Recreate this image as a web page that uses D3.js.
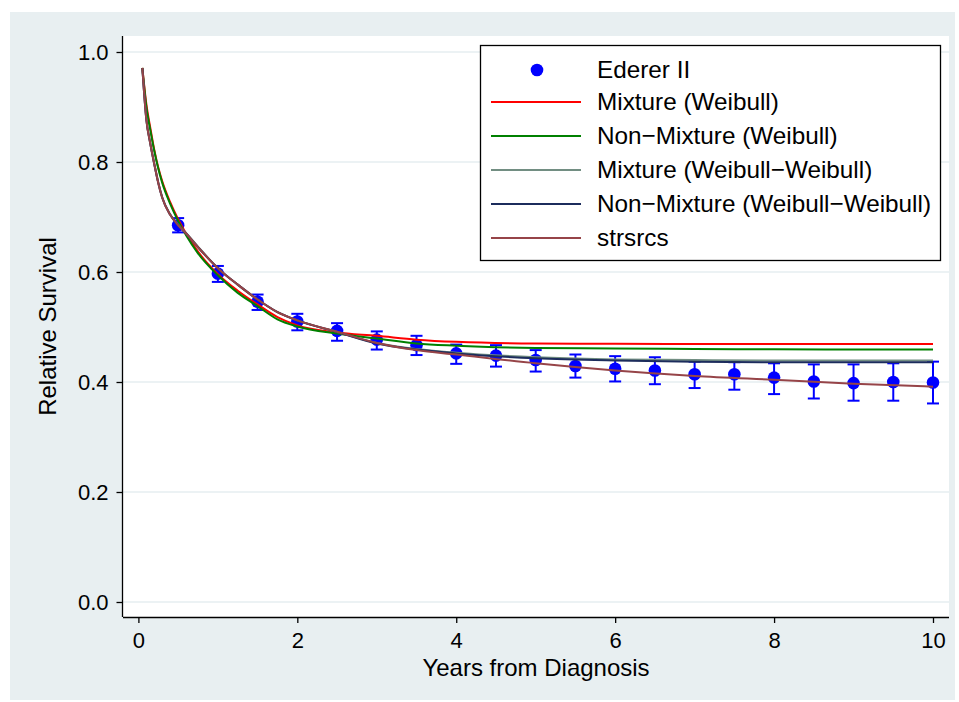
<!DOCTYPE html>
<html>
<head>
<meta charset="utf-8">
<style>
body { margin: 0; background: #fff; }
svg text { font-family: "Liberation Sans", Arial, sans-serif; fill: #000; }
.grid line { stroke: #e6eef0; stroke-width: 1.5; }
.curve { fill: none; stroke-width: 2; }
</style>
</head>
<body>
<svg width="959" height="702"></svg>
<script src="https://d3js.org/d3.v7.min.js"></script>
<script>

// Ederer II estimates with 95% limits
var ederTime = [0.5, 1, 1.5, 2, 2.5, 3, 3.5, 4, 4.5, 5, 5.5, 6, 6.5, 7, 7.5, 8, 8.5, 9, 9.5, 10];
var ederRS   = [0.685, 0.597, 0.546, 0.510, 0.493, 0.477, 0.467, 0.452, 0.448, 0.440, 0.429, 0.424, 0.421, 0.414, 0.414, 0.408, 0.401, 0.398, 0.400, 0.399];
var ederLo   = [0.672, 0.582, 0.531, 0.494, 0.475, 0.459, 0.449, 0.433, 0.428, 0.419, 0.408, 0.401, 0.396, 0.389, 0.386, 0.378, 0.370, 0.366, 0.366, 0.361];
var ederHi   = [0.698, 0.611, 0.559, 0.524, 0.507, 0.492, 0.484, 0.468, 0.467, 0.458, 0.450, 0.447, 0.445, 0.437, 0.436, 0.434, 0.432, 0.432, 0.434, 0.437];

// fitted curves, read at these times
var fitTime = [0.05, 0.1, 0.15, 0.2, 0.25, 0.3, 0.4, 0.5, 0.6, 0.75, 1, 1.25, 1.5, 1.75, 2, 2.5, 3, 3.5, 4, 5, 6, 7, 8, 9, 10];
var mixWeib    = [0.971, 0.905, 0.862, 0.822, 0.790, 0.765, 0.727, 0.696, 0.670, 0.637, 0.596, 0.566, 0.541, 0.518, 0.503, 0.490, 0.484, 0.477, 0.473, 0.470, 0.4695, 0.469, 0.469, 0.469, 0.469];
var nonMixWeib = [0.971, 0.900, 0.858, 0.820, 0.788, 0.762, 0.724, 0.693, 0.667, 0.634, 0.594, 0.562, 0.538, 0.514, 0.501, 0.488, 0.479, 0.470, 0.466, 0.462, 0.461, 0.460, 0.4595, 0.459, 0.459];
var mixWW      = [0.971, 0.878, 0.834, 0.797, 0.763, 0.736, 0.705, 0.686, 0.671, 0.646, 0.607, 0.577, 0.550, 0.527, 0.512, 0.491, 0.471, 0.460, 0.453, 0.445, 0.441, 0.440, 0.439, 0.439, 0.439];
var nonMixWW   = [0.971, 0.877, 0.833, 0.796, 0.762, 0.735, 0.704, 0.685, 0.670, 0.645, 0.607, 0.577, 0.550, 0.527, 0.512, 0.491, 0.470, 0.459, 0.452, 0.443, 0.439, 0.437, 0.436, 0.436, 0.436];
var strsrcs    = [0.971, 0.877, 0.833, 0.796, 0.762, 0.735, 0.704, 0.685, 0.670, 0.645, 0.607, 0.577, 0.550, 0.527, 0.512, 0.4915, 0.471, 0.458, 0.450, 0.434, 0.421, 0.411, 0.404, 0.397, 0.3915];

var seriesNames  = ["Mixture (Weibull)", "Non\u2212Mixture (Weibull)", "Mixture (Weibull\u2212Weibull)", "Non\u2212Mixture (Weibull\u2212Weibull)", "strsrcs"];
var seriesColors = ["#ff0000", "#008000", "#728e82", "#1c2c5c", "#964448"];
var seriesVals   = [mixWeib, nonMixWeib, mixWW, nonMixWW, strsrcs];

var xTicks = [0, 2, 4, 6, 8, 10];
var yTicks = [0, 0.2, 0.4, 0.6, 0.8, 1.0];

var svg = d3.select("svg");

var x = d3.scaleLinear().domain([0, 10]).range([138.4, 933]),
    y = d3.scaleLinear().domain([0, 1]).range([602, 52]);

var plotLeft = 123, plotRight = 949, plotTop = 36, plotBottom = 617;

// graph region and plot region
svg.append("rect")
    .attr("x", 10).attr("y", 12)
    .attr("width", 945).attr("height", 688)
    .attr("fill", "#e8eff1");

svg.append("rect")
    .attr("x", plotLeft).attr("y", plotTop)
    .attr("width", plotRight - plotLeft).attr("height", plotBottom - plotTop)
    .attr("fill", "#fff");

svg.append("g")
    .attr("class", "grid")
  .selectAll("line")
  .data(yTicks)
  .enter().append("line")
    .attr("x1", plotLeft).attr("x2", plotRight)
    .attr("y1", function(d) { return y(d); })
    .attr("y2", function(d) { return y(d); });

// axes
var xAxis = d3.axisBottom(x).tickValues(xTicks).tickSize(6).tickPadding(9).tickFormat(d3.format("d"));
var yAxis = d3.axisLeft(y).tickValues(yTicks).tickSize(6).tickPadding(8).tickFormat(d3.format(".1f"));

var gx = svg.append("g")
    .attr("transform", "translate(0," + plotBottom + ")")
    .call(xAxis);
gx.select(".domain").attr("d", "M" + plotLeft + ",0.5H" + plotRight);

var gy = svg.append("g")
    .attr("transform", "translate(" + (plotLeft - 0.5) + ",0)")
    .call(yAxis);
gy.select(".domain").attr("d", "M0," + plotTop + "V" + plotBottom);

svg.selectAll(".tick text").style("font-size", "22px").style("font-family", "Liberation Sans, Arial, sans-serif");
svg.selectAll(".tick line").attr("stroke", "#000").attr("stroke-width", 1.3);
svg.selectAll(".domain").attr("stroke", "#000").attr("stroke-width", 1.3);

svg.append("text")
    .attr("x", 536)
    .attr("y", 676)
    .attr("text-anchor", "middle")
    .style("font-size", "24px")
    .text("Years from Diagnosis");

svg.append("text")
    .attr("transform", "translate(56," + ((plotTop + plotBottom) / 2) + ") rotate(-90)")
    .attr("text-anchor", "middle")
    .style("font-size", "24px")
    .text("Relative Survival");

// error bars and points
var capW = 6;
var eb = svg.append("g").attr("stroke", "#0000ff").attr("stroke-width", 2);
ederTime.forEach(function(t, i) {
  eb.append("line").attr("x1", x(t)).attr("x2", x(t)).attr("y1", y(ederLo[i])).attr("y2", y(ederHi[i]));
  eb.append("line").attr("x1", x(t) - capW).attr("x2", x(t) + capW).attr("y1", y(ederLo[i])).attr("y2", y(ederLo[i]));
  eb.append("line").attr("x1", x(t) - capW).attr("x2", x(t) + capW).attr("y1", y(ederHi[i])).attr("y2", y(ederHi[i]));
});

svg.append("g")
  .selectAll("circle")
  .data(ederTime)
  .enter().append("circle")
    .attr("cx", function(d) { return x(d); })
    .attr("cy", function(d, i) { return y(ederRS[i]); })
    .attr("r", 6.3)
    .attr("fill", "#0000ff");

// fitted curves
var line = d3.line()
    .curve(d3.curveMonotoneX)
    .x(function(d, i) { return x(fitTime[i]); })
    .y(function(d) { return y(d); });

seriesVals.forEach(function(vals, k) {
  svg.append("path")
      .attr("class", "curve")
      .attr("d", line(vals))
      .attr("stroke", seriesColors[k]);
});

// legend
var legend = svg.append("g");
legend.append("rect")
    .attr("x", 480.5).attr("y", 45.5)
    .attr("width", 460).attr("height", 215)
    .attr("fill", "#fff").attr("stroke", "#000").attr("stroke-width", 1.3);

var rowY = [70, 102, 136, 170, 204, 238];
legend.append("circle").attr("cx", 537).attr("cy", rowY[0]).attr("r", 6.3).attr("fill", "#0000ff");
legend.append("text").attr("x", 597).attr("y", rowY[0] + 8).style("font-size", "24.3px").text("Ederer II");

seriesNames.forEach(function(name, k) {
  var ry = rowY[k + 1];
  legend.append("line")
      .attr("x1", 491).attr("x2", 581)
      .attr("y1", ry).attr("y2", ry)
      .attr("stroke", seriesColors[k]).attr("stroke-width", 2);
  legend.append("text")
      .attr("x", 597).attr("y", ry + 8)
      .style("font-size", "24.3px")
      .text(name);
});

</script>
</body>
</html>
